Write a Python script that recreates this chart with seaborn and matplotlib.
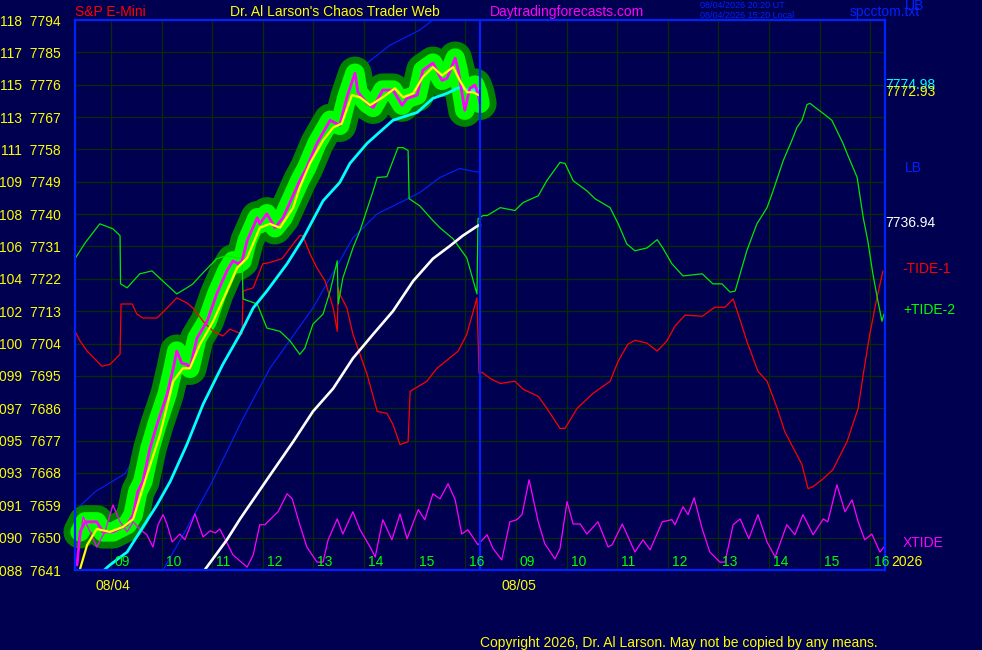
import matplotlib
matplotlib.use("Agg")
import matplotlib.pyplot as plt
import seaborn as sns

# x axis = session hours, 0 = 08:17 on 08/04, 8 = 08:17 on 08/05
SESSION_OPEN = 8.29
DAY_LEN = 8.0

hour_labels = ["09", "10", "11", "12", "13", "14", "15", "16"]
hour_values = [9, 10, 11, 12, 13, 14, 15, 16]
day_labels = ["08/04", "08/05"]
price_ticks = [7794, 7785, 7776, 7767, 7758, 7749, 7740, 7731, 7722,
               7713, 7704, 7695, 7686, 7677, 7668, 7659, 7650, 7641]
left_ticks = ["118", "117", "115", "113", "111", "109", "108", "106", "104",
              "102", "100", "099", "097", "095", "093", "091", "090", "088"]

# S&P e-mini price (magenta)
price_t = [0.04, 0.10, 0.20, 0.43, 0.55, 0.75, 1.03, 1.15, 1.24, 1.34,
           1.48, 1.62, 1.82, 1.94, 2.01, 2.11, 2.21, 2.27, 2.41, 2.61,
           2.80, 3.00, 3.12, 3.22, 3.30, 3.40, 3.60, 3.65, 3.79, 3.95,
           4.11, 4.29, 4.44, 4.58, 4.78, 5.04, 5.23, 5.37, 5.53, 5.59,
           5.77, 5.89, 6.08, 6.28, 6.46, 6.56, 6.76, 6.87, 7.07, 7.25,
           7.35, 7.51, 7.57, 7.70, 7.80, 7.90, 7.96, 8.00]
price_v = [7642.4, 7651.6, 7654.4, 7654.4, 7651.6, 7651.6, 7653.6, 7656.4, 7662.8, 7665.6,
           7674.8, 7681.5, 7689.9, 7697.1, 7701.9, 7698.5, 7698.2, 7697.1, 7705.5, 7710.2,
           7717.8, 7724.2, 7727.0, 7726.2, 7727.0, 7732.6, 7739.0, 7737.3, 7740.1, 7736.2,
           7739.0, 7744.6, 7749.3, 7753.0, 7759.7, 7766.1, 7764.7, 7772.5, 7779.2, 7773.9,
           7770.8, 7769.7, 7774.5, 7774.5, 7770.3, 7772.2, 7773.1, 7780.0, 7782.0, 7777.2,
           7777.8, 7783.4, 7780.0, 7768.9, 7775.0, 7775.9, 7773.6, 7770.8]

# fast average (yellow)
fast_t = [0.10, 0.24, 0.43, 0.69, 0.95, 1.15, 1.38, 1.68, 1.94, 2.13,
          2.27, 2.47, 2.73, 3.00, 3.20, 3.40, 3.65, 3.85, 4.05, 4.31,
          4.44, 4.64, 4.90, 5.10, 5.27, 5.47, 5.63, 5.83, 6.08, 6.32,
          6.48, 6.68, 6.87, 7.07, 7.25, 7.47, 7.60, 7.74, 7.86, 8.00]
fast_v = [7641.3, 7648.0, 7652.4, 7651.6, 7653.0, 7655.2, 7665.6, 7678.7, 7693.5, 7697.1,
          7697.1, 7703.8, 7710.2, 7718.6, 7725.0, 7727.8, 7736.2, 7737.3, 7736.2, 7741.8,
          7747.4, 7754.1, 7760.5, 7764.1, 7765.2, 7773.1, 7772.5, 7770.3, 7772.5, 7775.0,
          7772.5, 7773.6, 7778.1, 7780.9, 7778.6, 7780.9, 7777.2, 7773.9, 7773.9, 7772.93]

# slow average (cyan)
slow_t = [0.53, 0.69, 1.03, 1.28, 1.62, 1.88, 2.21, 2.53, 2.92, 3.26,
          3.52, 3.79, 4.19, 4.50, 4.90, 5.23, 5.43, 5.77, 6.28, 6.76,
          7.07, 7.35, 7.55, 7.64, 7.74, 7.96, 8.00]
slow_v = [7640.4, 7642.4, 7646.0, 7651.6, 7659.1, 7665.6, 7675.9, 7687.1, 7698.2, 7706.6,
          7713.9, 7718.6, 7726.2, 7733.1, 7743.7, 7748.8, 7754.1, 7759.7, 7766.1, 7768.3,
          7772.2, 7773.6, 7775.0, 7775.3, 7774.5, 7774.5, 7774.98]

# long average (white)
long_t = [2.53, 3.00, 3.26, 3.79, 4.31, 4.70, 5.10, 5.49, 5.89, 6.28,
          6.68, 7.07, 7.41, 7.66, 7.96, 8.00]
long_v = [7640.4, 7649.4, 7655.2, 7666.1, 7676.7, 7685.1, 7691.5, 7699.9, 7706.6, 7713.0,
          7721.4, 7727.6, 7731.2, 7734.0, 7736.8, 7736.94]

# upper / lower bands (blue)
ub_t = [0.04, 0.40, 0.99, 1.62, 2.80, 4.11, 5.04, 5.77, 6.22, 6.81, 7.07, 7.21]
ub_v = [7658.0, 7662.8, 7667.8, 7683.0, 7719.0, 7741.0, 7768.0, 7782.0, 7787.0, 7791.2,
        7794.0, 7795.4]
lb_t = [1.74, 2.17, 2.71, 3.32, 3.85, 4.70, 5.49, 5.97, 6.42, 6.81, 7.21, 7.60, 7.80, 8.00]
lb_v = [7641.0, 7651.6, 7665.6, 7683.2, 7697.1, 7713.9, 7733.4, 7740.1, 7743.2, 7746.0,
        7750.2, 7752.7, 7752.1, 7751.6]

# -TIDE-1 (red)
tide1_t = [0.00, 0.10, 0.24, 0.53, 0.69, 0.89, 0.91, 1.13, 1.22, 1.34,
           1.62, 1.82, 2.01, 2.21, 2.33, 2.53, 2.73, 2.92, 3.06, 3.30,
           3.32, 3.52, 3.71, 3.81, 4.09, 4.31, 4.44, 4.50, 4.64, 4.78,
           4.94, 5.10, 5.18, 5.20, 5.23, 5.37, 5.49, 5.63, 5.77, 5.97,
           6.16, 6.28, 6.42, 6.58, 6.62, 6.95, 7.15, 7.57, 7.74, 7.94,
           7.96, 7.98, 8.04, 8.20, 8.40, 8.69, 8.85, 9.15, 9.32, 9.58,
           9.68, 9.92, 10.23, 10.57, 10.73, 10.92, 11.06, 11.30, 11.50, 11.69,
           11.85, 12.05, 12.39, 12.64, 12.84, 13.00, 13.10, 13.27, 13.49, 13.67,
           13.87, 14.02, 14.36, 14.48, 14.58, 14.78, 14.97, 15.25, 15.47, 15.57,
           15.70, 15.84, 15.96]
tide1_v = [7707.4, 7704.7, 7701.9, 7697.7, 7698.2, 7701.0, 7715.0, 7715.0, 7712.2, 7711.1,
           7711.1, 7713.9, 7716.7, 7715.3, 7713.9, 7710.2, 7707.4, 7706.1, 7708.0, 7706.6,
           7718.6, 7719.5, 7726.2, 7726.4, 7727.6, 7731.7, 7734.0, 7734.0, 7729.0, 7725.0,
           7721.4, 7713.9, 7707.4, 7719.5, 7717.8, 7713.9, 7706.6, 7701.0, 7695.4, 7685.1,
           7684.6, 7681.5, 7675.9, 7676.7, 7690.7, 7693.5, 7697.1, 7701.9, 7706.6, 7716.7,
           7706.6, 7695.7, 7696.0, 7694.3, 7692.9, 7693.5, 7691.3, 7689.3, 7686.0, 7680.4,
           7680.4, 7686.0, 7690.1, 7693.5, 7699.1, 7703.8, 7704.9, 7704.1, 7701.9, 7704.7,
           7708.8, 7711.9, 7711.6, 7714.1, 7714.1, 7716.4, 7712.2, 7704.7, 7696.3, 7693.5,
           7686.0, 7679.5, 7670.3, 7663.6, 7664.2, 7666.4, 7668.9, 7676.7, 7686.0, 7695.4,
           7706.6, 7716.7, 7724.2]

# +TIDE-2 (green)
tide2_t = [0.00, 0.20, 0.49, 0.75, 0.89, 0.90, 1.03, 1.28, 1.52, 2.01,
           2.21, 2.33, 2.47, 2.80, 3.00, 3.30, 3.32, 3.60, 3.79, 4.05,
           4.25, 4.44, 4.54, 4.70, 4.90, 5.04, 5.18, 5.20, 5.29, 5.49,
           5.63, 5.89, 5.97, 6.16, 6.38, 6.48, 6.58, 6.60, 6.81, 7.07,
           7.21, 7.47, 7.74, 7.94, 7.96, 8.06, 8.14, 8.40, 8.69, 8.85,
           9.15, 9.32, 9.58, 9.68, 9.84, 10.11, 10.27, 10.57, 10.73, 10.90,
           11.06, 11.30, 11.50, 11.61, 11.79, 12.01, 12.39, 12.60, 12.78, 12.94,
           13.04, 13.27, 13.47, 13.67, 13.79, 13.99, 14.16, 14.26, 14.36, 14.46,
           14.52, 14.62, 14.78, 14.95, 15.17, 15.25, 15.45, 15.57, 15.66, 15.76,
           15.86, 15.94, 15.98]
tide2_v = [7727.6, 7732.0, 7737.3, 7735.9, 7734.0, 7720.6, 7719.5, 7723.4, 7724.2, 7717.8,
           7719.5, 7720.6, 7722.8, 7727.6, 7728.4, 7727.6, 7716.4, 7715.0, 7708.3, 7707.4,
           7704.7, 7701.0, 7702.7, 7709.4, 7712.2, 7718.6, 7727.0, 7715.0, 7722.2, 7730.6,
           7735.4, 7746.5, 7750.2, 7750.4, 7758.5, 7758.5, 7757.7, 7744.3, 7742.3, 7738.2,
           7736.2, 7733.1, 7727.8, 7717.8, 7738.7, 7739.6, 7739.6, 7741.8, 7741.0, 7743.2,
           7745.1, 7749.3, 7754.4, 7754.1, 7749.3, 7746.5, 7744.3, 7741.8, 7737.3, 7731.7,
           7729.8, 7730.6, 7732.9, 7730.6, 7726.2, 7722.8, 7723.4, 7720.6, 7720.6, 7718.3,
           7718.6, 7729.8, 7737.3, 7741.8, 7746.5, 7754.9, 7760.5, 7764.1, 7766.1, 7770.5,
           7770.8, 7769.7, 7768.0, 7766.1, 7759.7, 7756.9, 7750.2, 7739.0, 7732.6, 7723.4,
           7715.8, 7710.2, 7712.2]

# XTIDE (magenta, bottom)
xtide_t = [0.04, 0.16, 0.30, 0.43, 0.59, 0.75, 0.89, 1.03, 1.15, 1.28,
           1.42, 1.54, 1.64, 1.74, 1.82, 1.92, 2.07, 2.17, 2.37, 2.53,
           2.67, 2.77, 2.86, 2.96, 3.12, 3.40, 3.52, 3.65, 3.75, 4.01,
           4.19, 4.29, 4.44, 4.58, 4.78, 4.90, 5.00, 5.18, 5.29, 5.49,
           5.63, 5.83, 5.93, 6.08, 6.26, 6.42, 6.56, 6.78, 6.91, 7.07,
           7.21, 7.37, 7.51, 7.64, 7.76, 7.96, 8.14, 8.26, 8.43, 8.59,
           8.73, 8.83, 8.97, 9.15, 9.28, 9.48, 9.58, 9.72, 9.84, 9.98,
           10.11, 10.33, 10.53, 10.61, 10.81, 11.06, 11.22, 11.36, 11.60, 11.79,
           11.85, 12.01, 12.11, 12.23, 12.39, 12.54, 12.74, 12.84, 13.00, 13.14,
           13.31, 13.49, 13.67, 13.83, 14.06, 14.22, 14.38, 14.58, 14.78, 14.87,
           15.05, 15.21, 15.35, 15.47, 15.60, 15.74, 15.90, 15.98]
xtide_v = [7643.2, 7655.8, 7651.6, 7647.4, 7651.6, 7659.1, 7654.4, 7651.6, 7654.4, 7652.4,
           7650.8, 7647.4, 7653.6, 7656.4, 7653.6, 7648.8, 7651.0, 7649.4, 7656.6, 7650.2,
           7651.9, 7651.3, 7652.4, 7649.7, 7645.2, 7641.8, 7645.2, 7653.6, 7653.6, 7657.2,
           7662.2, 7660.8, 7653.6, 7647.4, 7643.2, 7643.2, 7649.4, 7655.2, 7651.0, 7657.2,
           7652.2, 7647.4, 7644.6, 7655.0, 7649.4, 7656.6, 7649.7, 7657.8, 7655.0, 7662.2,
           7660.8, 7665.0, 7660.5, 7651.0, 7652.2, 7648.0, 7650.8, 7646.9, 7643.8, 7654.4,
           7655.0, 7656.4, 7666.1, 7654.4, 7648.3, 7644.1, 7646.9, 7660.0, 7653.8, 7653.8,
           7651.0, 7654.4, 7647.4, 7648.0, 7653.8, 7646.0, 7649.4, 7646.6, 7654.4, 7655.0,
           7653.6, 7658.6, 7656.4, 7661.1, 7652.4, 7646.0, 7643.2, 7643.2, 7653.6, 7655.2,
           7649.7, 7656.4, 7648.8, 7644.6, 7653.6, 7650.8, 7656.4, 7650.8, 7655.2, 7654.4,
           7664.7, 7657.2, 7660.5, 7654.4, 7649.4, 7651.0, 7646.0, 7647.4]

BG = "#000050"
GRID = "#0a280a"
BLUE = "#0022ff"
YELLOW = "#ffff00"
GREEN = "#00ff00"
MAGENTA = "#ff00ff"
RED = "#ff0000"
CYAN = "#00ffff"

sns.set_style("dark", {"axes.facecolor": BG, "figure.facecolor": BG,
                       "grid.color": GRID, "axes.edgecolor": BLUE})
plt.rcParams["font.family"] = ["Liberation Sans", "DejaVu Sans"]

fig = plt.figure(figsize=(9.82, 6.5), dpi=100)
ax = fig.add_axes([75 / 982, 80 / 650, 810 / 982, 550 / 650])
ax.set_facecolor(BG)


def line(t, v, color, lw, z, **kw):
    sns.lineplot(x=t, y=v, sort=False, estimator=None, color=color,
                 linewidth=lw, zorder=z, ax=ax, **kw)


# bands under the price glow
line(ub_t, ub_v, BLUE, 0.8, 2)
line(lb_t, lb_v, BLUE, 0.8, 2)

# green glow around the price: dark rim and bright core
line(price_t[1:], price_v[1:], "#008000", 24, 3,
     solid_capstyle="round", solid_joinstyle="round", clip_on=False)
line(price_t[1:], price_v[1:], GREEN, 14, 3.1,
     solid_capstyle="round", solid_joinstyle="round", clip_on=False)

line(tide1_t, tide1_v, RED, 0.9, 4)
line(tide2_t, tide2_v, "#00e800", 0.9, 4)
line(xtide_t, xtide_v, MAGENTA, 0.9, 4)
line(long_t, long_v, "white", 1.9, 5)
line(slow_t, slow_v, CYAN, 2.0, 5)
line(price_t, price_v, MAGENTA, 2.0, 6)
line(fast_t, fast_v, YELLOW, 1.6, 7)

# day divider
ax.axvline(DAY_LEN, color=BLUE, lw=1.6, zorder=8)

grid_x = [h - SESSION_OPEN + d * DAY_LEN for d in range(2) for h in hour_values]
ax.set_xlim(0, 2 * DAY_LEN)
ax.set_ylim(min(price_ticks), max(price_ticks))
ax.set_xticks(grid_x)
ax.set_xticklabels([])
ax.set_xticks([0, DAY_LEN], minor=True)
ax.tick_params(axis="x", which="major", length=0)
ax.tick_params(axis="x", which="minor", length=6, width=1, color=YELLOW, direction="out")
ax.set_yticks(price_ticks)
ax.set_yticklabels([f"{a}  {b}" for a, b in zip(left_ticks, price_ticks)],
                   color=YELLOW, fontsize=10)
ax.tick_params(axis="y", length=3, width=1, color="#00a000", pad=7)
ax.grid(True, which="major", color=GRID, lw=1, zorder=0)
ax.set_xlabel("")
ax.set_ylabel("")
for side in ["left", "right", "top", "bottom"]:
    ax.spines[side].set_visible(True)
    ax.spines[side].set_color(BLUE)
    ax.spines[side].set_linewidth(1.6)
    ax.spines[side].set_zorder(9)

# hour labels inside the bottom edge
for d in range(2):
    for h, lbl in zip(hour_values, hour_labels):
        ax.annotate(lbl, xy=(h - SESSION_OPEN + d * DAY_LEN, 0),
                    xycoords=("data", "axes fraction"), xytext=(4, 1),
                    textcoords="offset pixels", ha="left", va="bottom",
                    color=GREEN, fontsize=10, zorder=10)
    ax.annotate(day_labels[d], xy=(d * DAY_LEN, 0), xycoords=("data", "axes fraction"),
                xytext=(21, -16), textcoords="offset pixels", ha="left", va="center",
                color=YELLOW, fontsize=10)
ax.annotate("2026", xy=(1, 0), xycoords="axes fraction", xytext=(6, 1),
            textcoords="offset pixels", ha="left", va="bottom", color=YELLOW, fontsize=10)


# labels on the right at the last values
def right_label(text, value, color, dx, dy=0):
    ax.annotate(text, xy=(1, value), xycoords=("axes fraction", "data"),
                xytext=(dx, dy), textcoords="offset pixels", ha="left", va="center",
                color=color, fontsize=10, annotation_clip=False)


right_label(f"{slow_v[-1]:.2f}", slow_v[-1], CYAN, 0, 3)
right_label(f"{fast_v[-1]:.2f}", fast_v[-1], YELLOW, 0, 4)
right_label(f"{long_v[-1]:.2f}", long_v[-1], "white", 0, 2)
right_label("LB", lb_v[-1], BLUE, 20, 4)
right_label("-TIDE-1", tide1_v[-1], RED, 17, 2)
right_label("+TIDE-2", tide2_v[-1], GREEN, 18, 4)
right_label("XTIDE", xtide_v[-1], MAGENTA, 18, 4)

# header and footer
fig.text(75 / 982, 1 - 12 / 650, "S&P E-Mini", color=RED, fontsize=10, va="center")
fig.text(230 / 982, 1 - 12 / 650, "Dr. Al Larson's Chaos Trader Web", color=YELLOW,
         fontsize=10, va="center")
fig.text(490 / 982, 1 - 12 / 650, "Daytradingforecasts.com", color=MAGENTA,
         fontsize=10, va="center")
fig.text(700 / 982, 1 - 5 / 650, "08/04/2026 20:20 UT", color=BLUE, fontsize=6.5,
         va="center")
fig.text(700 / 982, 1 - 15 / 650, "08/04/2026 15:20 Local", color=BLUE, fontsize=6.5,
         va="center")
fig.text(850 / 982, 1 - 12 / 650, "spcctom.txt", color=BLUE, fontsize=10, va="center")
fig.text(905 / 982, 1 - 6 / 650, "UB", color=BLUE, fontsize=10, va="center")
fig.text(480 / 982, 1 - 643 / 650, "Copyright 2026, Dr. Al Larson. May not be copied by any means.",
         color=YELLOW, fontsize=10, va="center")

fig.savefig("out.png", dpi=100, facecolor=BG)
